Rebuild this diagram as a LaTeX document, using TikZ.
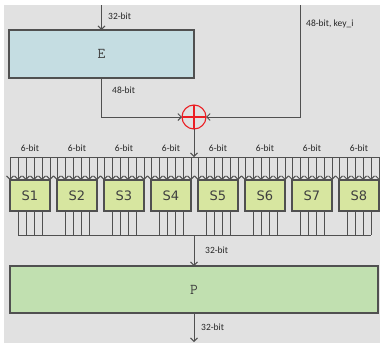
\documentclass[tikz,border=0pt]{standalone}
\usepackage{fontspec}
\setmainfont{Carlito}
\newfontfamily\sboxfont{DejaVu Sans}
\usetikzlibrary{arrows.meta,calc}
\definecolor{BgGray}{RGB}{225,225,225}
\definecolor{LineGray}{RGB}{80,80,80}
\definecolor{SoftBlue}{RGB}{197,221,226}
\definecolor{SoftLime}{RGB}{215,230,160}
\definecolor{SoftGreen}{RGB}{193,224,176}
\definecolor{XorRed}{RGB}{235,30,35}

\begin{document}
\begin{tikzpicture}[x=1pt,y=-1pt,
  wire/.style={draw=LineGray, line width=0.9pt},
  arr/.style={wire, -{Straight Barb[length=3.5pt,width=7pt]}},
  lbl/.style={font=\fontsize{9.5}{11}\selectfont, text=black!85, anchor=west, inner sep=0pt},
  bigbox/.style={draw=LineGray, line width=1.1pt, outer sep=0pt, text=black!75, font=\ttfamily\fontsize{15}{17}\selectfont},
  sbox/.style={draw=LineGray, line width=1.1pt, fill=SoftLime, minimum width=40pt, minimum height=31pt, outer sep=0pt, text=black!75, font=\sboxfont\fontsize{13}{15}\selectfont}]

  % Canvas
  \useasboundingbox (0,0) rectangle (380,343);
  \fill[white] (0,0) rectangle (380,343);
  \fill[BgGray] (4,5) rectangle (380,343);

  % Expansion E
  \node[bigbox, fill=SoftBlue, minimum width=185pt, minimum height=48pt] (E) at (101.5,54) {E};
  \coordinate (rin) at (101.5,5);
  \draw[arr] (rin) -- (E.north);
  \node[lbl] (rlabel) at (108,16) {32-bit};

  % XOR with the round key
  \node[circle, draw=XorRed, line width=1.1pt, minimum size=24pt, inner sep=0pt, outer sep=0pt] (xor) at (194,117) {};
  \draw[XorRed, line width=1.1pt] (xor.north) -- (xor.south) (xor.west) -- (xor.east);
  \draw[arr] (E.south) |- (xor.west);
  \node[lbl] (elabel) at (112,90) {48-bit};
  \coordinate (kin) at (300,5);
  \draw[arr] (kin) |- (xor.east);
  \node[lbl] (klabel) at (306,24) {48-bit, key\_i};

  % Input bus and S-boxes
  \coordinate (busL) at (10,157);
  \coordinate (busR) at (379,157);
  \draw[wire] (busL) -- (busR);
  \draw[arr] (xor.south) -- (xor.south |- busL);
  \foreach \i in {1,...,8}{
    \node[sbox] (s\i) at ({30+47*(\i-1)},195.5) {S\i};
    \node[lbl, anchor=south] (b\i) at ({30+47*(\i-1)},152) {6-bit};
    \foreach \k in {0,...,5}
      \draw[arr] ($(s\i.north west)+(8*\k,-23)$) -- ++(0,23);
    \foreach \k in {1,...,4}
      \draw[wire] ($(s\i.south west)+(8*\k,0)$) -- ++(0,24);
  }
  \coordinate (outL) at ($(s1.south west)+(8,24)$);
  \coordinate (outR) at ($(s8.south west)+(32,24)$);
  \draw[wire] (outL) -- (outR);

  % Permutation P
  \node[bigbox, fill=SoftGreen, minimum width=368pt, minimum height=47pt] (P) at (194,289.5) {P};
  \draw[arr] (xor.south |- outL) -- (P.north);
  \node[lbl] (slabel) at (205,250) {32-bit};
  \coordinate (pout) at (194,342);
  \draw[arr] (P.south) -- (pout);
  \node[lbl] (plabel) at (201,327) {32-bit};
\end{tikzpicture}
\end{document}
